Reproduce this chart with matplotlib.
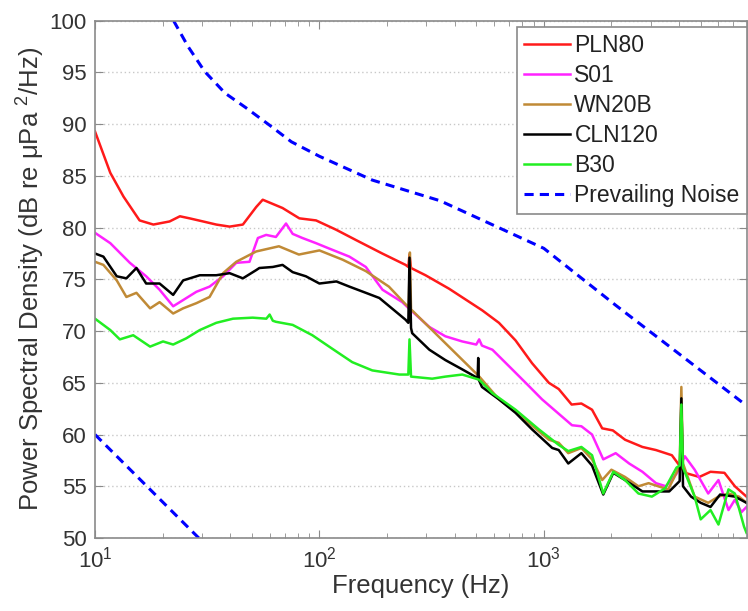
import matplotlib
matplotlib.use("Agg")
import matplotlib.pyplot as plt
import numpy as np
from matplotlib.ticker import LogLocator, NullFormatter

plt.rcParams['font.family'] = ['Liberation Sans', 'DejaVu Sans']
plt.rcParams['mathtext.default'] = 'regular'

# ---------------- data (frequency Hz, PSD dB) ----------------
pln80_f = [10, 11.7, 13.4, 15.8, 18.2, 21.5, 23.9, 26.4, 30.3, 34.7, 39.8, 45.6, 52.3, 55.9,
           68.5, 81.4, 96.6, 118.7, 145.6, 190.6, 242, 249, 252, 256, 297, 378, 532, 631,
           748, 886, 1053, 1165, 1330, 1470, 1640, 1820, 2030, 2300, 2750, 3160, 3720,
           4250, 4930, 5530, 6380, 7100, 8000]
pln80_db = [89.3, 85.3, 83.0, 80.7, 80.3, 80.6, 81.1, 80.9, 80.6, 80.3, 80.1, 80.3, 82.0, 82.7,
            81.9, 80.9, 80.7, 79.8, 78.8, 77.5, 76.4, 76.2, 77.4, 76.1, 75.4, 74.1, 72.0, 70.8,
            69.1, 66.9, 65.0, 64.4, 62.9, 63.0, 62.4, 60.6, 60.4, 59.5, 58.8, 58.5, 58.0,
            56.3, 55.9, 56.4, 56.3, 55.0, 54.0]

s01_f = [10, 11.7, 14.3, 16.9, 19.4, 22.3, 24.7, 28.3, 32.4, 37.2, 42.6, 48.8, 53.2, 57.9,
         64, 71, 76, 84, 96.6, 110, 136, 161, 191, 234, 250, 309, 364, 433, 500, 515, 530,
         590, 700, 830, 982, 1210, 1335, 1470, 1640, 1840, 2090, 2400, 2750, 3160, 3500,
         3900, 4250, 4700, 5400, 6000, 6650, 7100, 7600, 8000]
s01_db = [79.5, 78.5, 76.6, 75.3, 74.0, 72.4, 73.0, 73.8, 74.3, 75.3, 76.6, 76.7, 79.0, 79.3,
          79.1, 80.4, 79.4, 79.0, 78.5, 78.0, 77.2, 76.2, 74.0, 72.8, 72.2, 70.4, 69.5, 69.0,
          68.7, 69.2, 68.6, 68.2, 66.6, 65.0, 63.4, 61.7, 60.9, 60.8, 60.0, 57.6, 58.2, 57.2,
          56.4, 55.3, 55.0, 56.2, 57.9, 56.6, 54.3, 55.6, 52.7, 53.7, 52.5, 53.0]

wn20b_f = [10, 10.9, 12.5, 13.8, 15.3, 17.6, 19.4, 22.3, 24.7, 28.3, 32.4, 37.2, 42.6, 52.3,
           66, 81, 100, 127, 161, 204, 242, 250, 253, 256, 516, 631, 748, 1053, 1165, 1285,
           1470, 1640, 1820, 2000, 2300, 2640, 2930, 3230, 3580, 3820, 4030, 4100, 4170,
           4700, 5400, 6000, 6650, 7400, 8000]
wn20b_db = [76.7, 76.4, 74.9, 73.3, 73.7, 72.2, 72.8, 71.7, 72.2, 72.7, 73.3, 75.6, 76.7, 77.7,
            78.2, 77.4, 77.8, 76.9, 75.8, 74.3, 72.6, 72.3, 77.6, 72.1, 65.6, 63.4, 62.2, 59.5, 59.2, 58.2,
            58.7, 57.6, 55.6, 56.6, 55.9, 55.0, 55.3, 55.0, 54.7, 55.9, 57.0, 64.6, 57.2,
            54.0, 53.4, 54.0, 54.3, 54.0, 53.4]

cln120_f = [10, 10.9, 12.5, 13.8, 15.3, 16.9, 19.4, 22.3, 24.7, 29.3, 34.7, 39.8, 45.6, 52.3,
            54, 62, 68.5, 76, 87, 100, 119, 136, 161, 185, 242, 249, 252, 256, 259, 309, 364,
            433, 494, 507, 510, 513, 530, 631, 748, 886, 1090, 1165, 1285, 1470, 1640, 1840,
            2040, 2300, 2750, 3160, 3620, 4030, 4100, 4170, 4530, 5000, 5530, 6100, 7100, 8000]
cln120_db = [77.5, 77.2, 75.3, 75.1, 76.1, 74.6, 74.6, 73.5, 74.9, 75.4, 75.4, 75.6, 75.1, 75.9,
             76.1, 76.2, 76.4, 75.7, 75.3, 74.6, 74.8, 74.3, 73.7, 73.2, 71.1, 70.8, 77.1, 70.3, 69.8,
             68.2, 67.2, 66.3, 65.6, 65.4, 67.4, 65.3, 64.6, 63.4, 62.1, 60.5, 58.7, 58.5, 57.2,
             58.2, 57.0, 54.2, 56.3, 55.6, 54.5, 54.5, 54.5, 55.5, 63.5, 55.0, 54.0, 53.4, 53.0,
             54.2, 54.0, 53.4]

b30_f = [10, 11.7, 12.9, 14.8, 17.6, 20.1, 22.3, 25.5, 29.3, 34.7, 41.2, 50.4, 58, 60, 62,
         64, 76, 93, 114, 140, 172, 227, 249, 252, 256, 318, 364, 433, 515, 590, 748, 950,
         1165, 1285, 1470, 1640, 1840, 2040, 2300, 2640, 3030, 3470, 3900, 4030, 4100, 4170,
         4700, 5000, 5530, 6000, 6650, 7100, 7800, 8000]
b30_db = [71.2, 70.1, 69.2, 69.6, 68.5, 69.0, 68.7, 69.3, 70.1, 70.8, 71.2, 71.3, 71.2, 71.6, 71.0,
          70.9, 70.6, 69.6, 68.3, 67.0, 66.2, 65.8, 65.8, 69.2, 65.6, 65.4, 65.6, 65.8, 65.3, 64.0,
          62.4, 60.5, 59.0, 58.4, 58.8, 58.0, 54.3, 56.4, 55.6, 54.3, 54.0, 54.8, 56.8, 57.0,
          62.9, 56.8, 54.0, 51.8, 52.7, 51.3, 54.7, 54.3, 51.1, 50.5]

noise_hi_f = [22.4, 26, 30.8, 38, 47, 60, 75, 100, 172, 345, 574, 1000, 2090, 8000]
noise_hi_db = [100, 97.5, 95.1, 93.0, 91.6, 89.9, 88.3, 86.9, 84.6, 82.6, 80.4, 78.0, 72.5, 62.8]
noise_lo_f = [10, 29]
noise_lo_db = [60, 50]

series = [
    ("PLN80", pln80_f, pln80_db, "#ff1a1a"),
    ("S01", s01_f, s01_db, "#ff22ff"),
    ("WN20B", wn20b_f, wn20b_db, "#c08a36"),
    ("CLN120", cln120_f, cln120_db, "#000000"),
    ("B30", b30_f, b30_db, "#22ee22"),
]

fig = plt.figure(figsize=(7.48, 6.11), dpi=100)
ax = fig.add_axes([0.127, 0.1195, 0.871, 0.8465])

for name, f, d, c in series:
    ax.plot(f, d, color=c, lw=1.8, label=name, solid_joinstyle='round')

ax.plot(noise_hi_f, noise_hi_db, color="#0000ff", lw=2.2, ls=(0, (3, 2)), label="Prevailing Noise")
ax.plot(noise_lo_f, noise_lo_db, color="#0000ff", lw=2.2, ls=(0, (3, 2)))

ax.set_xscale('log')
ax.set_xlim(10, 8000)
ax.set_ylim(50, 100)
ax.set_yticks(np.arange(50, 101, 5))
ax.xaxis.set_major_locator(LogLocator(base=10, numticks=10))
ax.xaxis.set_minor_locator(LogLocator(base=10, subs=np.arange(2, 10), numticks=10))
ax.xaxis.set_minor_formatter(NullFormatter())

ax.yaxis.grid(True, ls=(0, (1, 2)), color="#c8c8c8", lw=1)
ax.xaxis.grid(False)

for s in ax.spines.values():
    s.set_color("#8a8a8a")
    s.set_linewidth(1.2)
ax.tick_params(which='both', direction='in', top=True, right=True, colors="#8a8a8a",
               labelcolor="#333333", labelsize=16)
ax.tick_params(which='major', length=6, pad=6)
ax.tick_params(which='minor', length=3.5)

ax.set_xlabel("Frequency (Hz)", fontsize=18.5, color="#333333", labelpad=1)
ax.set_ylabel("Power Spectral Density (dB re μPa $^{2}$/Hz)", fontsize=18.5, color="#333333",
              labelpad=2)

leg = ax.legend(loc='upper right', bbox_to_anchor=(1.0, 0.987), fontsize=16.5, frameon=True,
                fancybox=False, handlelength=2.0, handletextpad=0.2, labelspacing=0.3,
                borderpad=0.3, borderaxespad=0.0, framealpha=1)
leg.get_frame().set_edgecolor("#8a8a8a")
leg.get_frame().set_linewidth(1.2)
for t in leg.get_texts():
    t.set_color("#222222")

fig.savefig("out.png", dpi=100)
